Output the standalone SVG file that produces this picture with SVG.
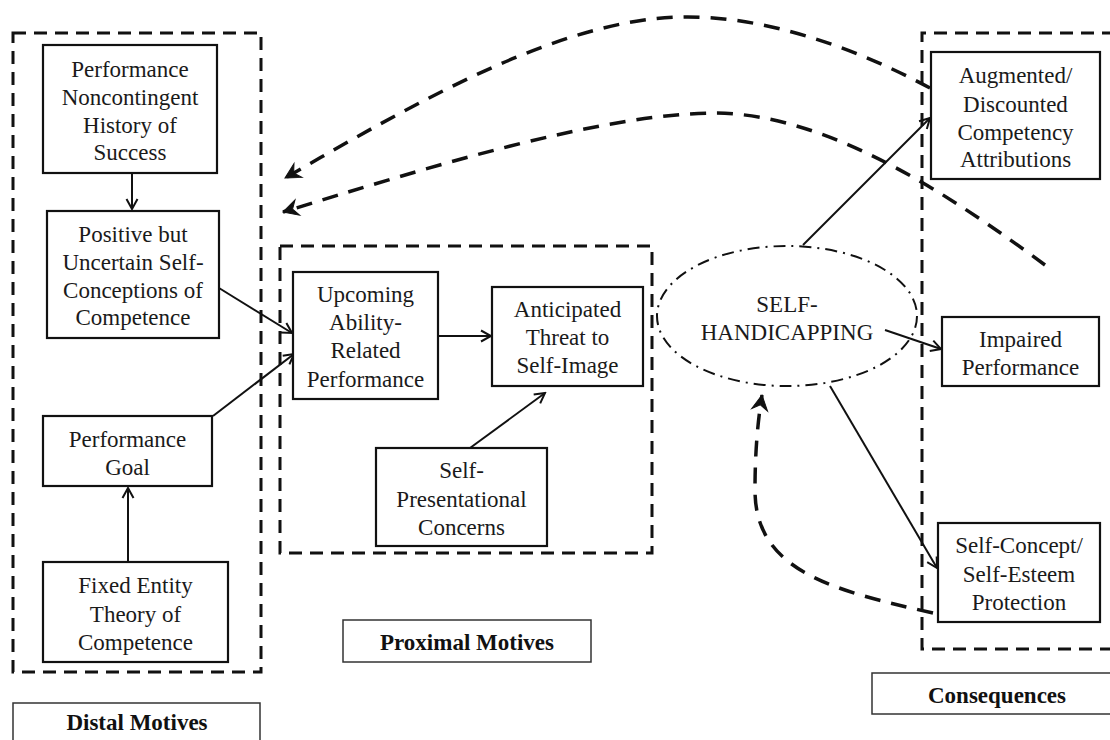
<svg xmlns="http://www.w3.org/2000/svg" width="1110" height="740" viewBox="0 0 1110 740">
<style>
  .box { fill: #fff; stroke: #111; stroke-width: 2.2; }
  .grp { fill: none; stroke: #111; stroke-width: 3; stroke-dasharray: 13 8; }
  .lbl { fill: #fff; stroke: #333; stroke-width: 1.5; }
  .t { font-family: "Liberation Serif", "Times New Roman", serif; font-size: 23px; fill: #1a1a1a; text-anchor: middle; }
  .b { font-family: "Liberation Serif", "Times New Roman", serif; font-size: 23px; font-weight: bold; fill: #111; text-anchor: middle; }
  .arr { fill: none; stroke: #111; stroke-width: 2; marker-end: url(#open); }
  .fb { fill: none; stroke: #111; stroke-width: 3.5; stroke-dasharray: 16 11; }
  .fba { marker-end: url(#barb); }
</style>
<defs>
  <marker id="open" markerUnits="userSpaceOnUse" markerWidth="14" markerHeight="14" refX="12" refY="7" orient="auto">
    <path d="M2,1.5 L12,7 L2,12.5" fill="none" stroke="#111" stroke-width="2"/>
  </marker>
  <marker id="barb" markerUnits="userSpaceOnUse" markerWidth="20" markerHeight="20" refX="17" refY="10" orient="auto">
    <path d="M17,10 L2,2 L7,10 L2,18 Z" fill="#111" stroke="#111" stroke-width="1"/>
  </marker>
</defs>

<!-- group frames -->
<g id="distal-group">
  <rect class="grp" x="13" y="33" width="248" height="639"/>
</g>
<g id="proximal-group">
  <rect class="grp" x="280" y="246" width="372" height="307"/>
</g>
<g id="consequences-group">
  <path class="grp" d="M1115,33 H922 V649 H1115"/>
</g>

<!-- connectors -->
<g id="connectors">
  <line class="arr" x1="132" y1="173" x2="132" y2="209"/>
  <line class="arr" x1="128" y1="562" x2="128" y2="488"/>
  <line class="arr" x1="219" y1="288" x2="292" y2="333"/>
  <line class="arr" x1="213" y1="416" x2="294" y2="354"/>
  <line class="arr" x1="438" y1="336" x2="491" y2="336"/>
  <line class="arr" x1="470" y1="448" x2="545" y2="393"/>
  <line class="arr" x1="803" y1="245" x2="930" y2="118"/>
  <line class="arr" x1="885" y1="330" x2="941" y2="349"/>
  <line class="arr" x1="830" y1="386" x2="937" y2="568"/>
  <path class="fb fba" d="M930,88 C850,45 760,15 680,17 C560,20 420,100 285,178"/>
  <path class="fb fba" d="M1045,265 C950,195 830,115 717,113 C600,113 420,170 283,212"/>
  <path class="fb fba" d="M933,613 C830,590 755,570 755,490 C755,450 758,420 762,395"/>
</g>

<!-- distal nodes -->
<g id="history">
  <rect class="box" x="43" y="45" width="174" height="128"/>
  <text class="t" x="130" y="77">Performance</text>
  <text class="t" x="130" y="105">Noncontingent</text>
  <text class="t" x="130" y="133">History of</text>
  <text class="t" x="130" y="160">Success</text>
</g>
<g id="self-conceptions">
  <rect class="box" x="47" y="211" width="172" height="127"/>
  <text class="t" x="133" y="242">Positive but</text>
  <text class="t" x="133" y="270">Uncertain Self-</text>
  <text class="t" x="133" y="298">Conceptions of</text>
  <text class="t" x="133" y="325">Competence</text>
</g>
<g id="performance-goal">
  <rect class="box" x="43" y="416" width="169" height="70"/>
  <text class="t" x="127.5" y="447">Performance</text>
  <text class="t" x="127.5" y="475">Goal</text>
</g>
<g id="entity-theory">
  <rect class="box" x="43" y="562" width="185" height="100"/>
  <text class="t" x="135.5" y="593">Fixed Entity</text>
  <text class="t" x="135.5" y="622">Theory of</text>
  <text class="t" x="135.5" y="650">Competence</text>
</g>

<!-- proximal nodes -->
<g id="upcoming">
  <rect class="box" x="293" y="272" width="145" height="127"/>
  <text class="t" x="365.5" y="302">Upcoming</text>
  <text class="t" x="365.5" y="330">Ability-</text>
  <text class="t" x="365.5" y="358">Related</text>
  <text class="t" x="365.5" y="387">Performance</text>
</g>
<g id="threat">
  <rect class="box" x="492" y="287" width="151" height="99"/>
  <text class="t" x="567.5" y="317">Anticipated</text>
  <text class="t" x="567.5" y="345">Threat to</text>
  <text class="t" x="567.5" y="373">Self-Image</text>
</g>
<g id="self-presentational">
  <rect class="box" x="376" y="448" width="171" height="98"/>
  <text class="t" x="461.5" y="478">Self-</text>
  <text class="t" x="461.5" y="507">Presentational</text>
  <text class="t" x="461.5" y="535">Concerns</text>
</g>

<!-- self-handicapping -->
<g id="self-handicapping">
  <ellipse cx="787" cy="316" rx="130" ry="70" fill="none" stroke="#111" stroke-width="2" stroke-dasharray="12 6 2 6"/>
  <text class="t" x="787" y="312">SELF-</text>
  <text class="t" x="787" y="340">HANDICAPPING</text>
</g>

<!-- consequences nodes -->
<g id="attributions">
  <rect class="box" x="931" y="52" width="169" height="127"/>
  <text class="t" x="1015.5" y="83">Augmented/</text>
  <text class="t" x="1015.5" y="112">Discounted</text>
  <text class="t" x="1015.5" y="140">Competency</text>
  <text class="t" x="1015.5" y="167">Attributions</text>
</g>
<g id="impaired">
  <rect class="box" x="942" y="317" width="157" height="69"/>
  <text class="t" x="1020.5" y="347">Impaired</text>
  <text class="t" x="1020.5" y="375">Performance</text>
</g>
<g id="protection">
  <rect class="box" x="938" y="523" width="162" height="99"/>
  <text class="t" x="1019" y="553">Self-Concept/</text>
  <text class="t" x="1019" y="582">Self-Esteem</text>
  <text class="t" x="1019" y="610">Protection</text>
</g>

<!-- labels -->
<g id="label-distal">
  <rect class="lbl" x="13" y="703" width="247" height="45"/>
  <text class="b" x="137" y="730">Distal Motives</text>
</g>
<g id="label-proximal">
  <rect class="lbl" x="343" y="620" width="248" height="42"/>
  <text class="b" x="467" y="650">Proximal Motives</text>
</g>
<g id="label-consequences">
  <rect class="lbl" x="872" y="673" width="245" height="41"/>
  <text class="b" x="997" y="703">Consequences</text>
</g>
</svg>
